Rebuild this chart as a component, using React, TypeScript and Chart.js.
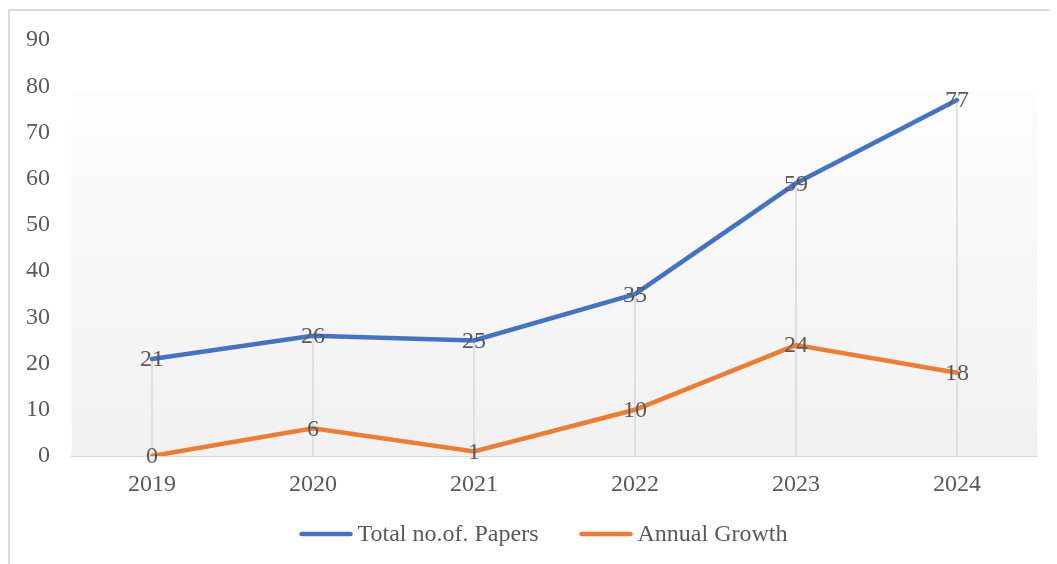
import React, { useEffect, useRef } from "react";
import { Chart, registerables } from "chart.js";

Chart.register(...registerables);

const years = ["2019", "2020", "2021", "2022", "2023", "2024"];
const totalPapers = [21, 26, 25, 35, 59, 77];
const annualGrowth = [0, 6, 1, 10, 24, 18];
const seriesNames = ["Total no.of. Papers", "Annual Growth"];
const seriesColors = ["#4472C4", "#ED7D31"];
const yMin = 0;
const yMax = 90;
const yStep = 10;

const FONT = '"Liberation Serif", "Times New Roman", serif';
const TEXT = "#595959";

const bgPlugin = {
  id: "bgGradient",
  beforeDatasetsDraw(chart: any) {
    const { ctx, chartArea } = chart;
    const top = chartArea.top + 52;
    const g = ctx.createLinearGradient(0, top, 0, chartArea.bottom);
    g.addColorStop(0, "#fdfdfd");
    g.addColorStop(1, "#f1f1f1");
    ctx.save();
    ctx.fillStyle = g;
    ctx.fillRect(chartArea.left, top, chartArea.right - chartArea.left, chartArea.bottom - top);
    const m0 = chart.getDatasetMeta(0).data;
    const m1 = chart.getDatasetMeta(1).data;
    ctx.strokeStyle = "#d9d9d9";
    ctx.lineWidth = 1.5;
    for (let i = 0; i < m0.length; i++) {
      const x = m0[i].x;
      const y = Math.min(m0[i].y, m1[i].y);
      ctx.beginPath();
      ctx.moveTo(x, y);
      ctx.lineTo(x, chartArea.bottom);
      ctx.stroke();
    }
    ctx.restore();
  },
};

const labelPlugin = {
  id: "pointLabels",
  afterDatasetsDraw(chart: any) {
    const { ctx } = chart;
    ctx.save();
    ctx.font = `24px ${FONT}`;
    ctx.fillStyle = TEXT;
    ctx.textAlign = "center";
    ctx.textBaseline = "middle";
    chart.data.datasets.forEach((ds: any, di: number) => {
      const meta = chart.getDatasetMeta(di);
      meta.data.forEach((pt: any, i: number) => {
        ctx.fillText(String(ds.data[i]), pt.x, pt.y + 1);
      });
    });
    ctx.restore();
  },
};

const legendPlugin = {
  id: "customLegend",
  afterDraw(chart: any) {
    const { ctx } = chart;
    ctx.save();
    ctx.font = `24px ${FONT}`;
    const lineLen = 53;
    const gapText = 5;
    const gapItem = 41;
    const items = chart.data.datasets.map((ds: any) => ({
      label: ds.label,
      color: ds.borderColor,
      w: ctx.measureText(ds.label).width,
    }));
    let total = 0;
    items.forEach((it: any, i: number) => {
      total += lineLen + gapText + it.w + (i > 0 ? gapItem : 0);
    });
    let x = chart.width / 2 + 10 - total / 2;
    const y = 523;
    items.forEach((it: any) => {
      ctx.strokeStyle = it.color;
      ctx.lineWidth = 4.5;
      ctx.lineCap = "round";
      ctx.beginPath();
      ctx.moveTo(x + 2, y);
      ctx.lineTo(x + lineLen - 2, y);
      ctx.stroke();
      ctx.fillStyle = TEXT;
      ctx.textAlign = "left";
      ctx.textBaseline = "middle";
      ctx.fillText(it.label, x + lineLen + gapText, y + 1);
      x += lineLen + gapText + it.w + gapItem;
    });
    ctx.restore();
  },
};

export default function App() {
  const ref = useRef<HTMLCanvasElement>(null);
  useEffect(() => {
    if (!ref.current) return;
    const chart = new Chart(ref.current, {
      type: "line",
      data: {
        labels: years,
        datasets: [
          {
            label: seriesNames[0],
            data: totalPapers,
            borderColor: seriesColors[0],
            backgroundColor: seriesColors[0],
            borderWidth: 4.5,
            pointRadius: 0,
            tension: 0,
            borderCapStyle: "round",
          },
          {
            label: seriesNames[1],
            data: annualGrowth,
            borderColor: seriesColors[1],
            backgroundColor: seriesColors[1],
            borderWidth: 4.5,
            pointRadius: 0,
            tension: 0,
            borderCapStyle: "round",
          },
        ],
      },
      options: {
        animation: false,
        responsive: false,
        maintainAspectRatio: false,
        layout: { padding: { top: 29, right: 19.5, left: 0, bottom: 0 } },
        plugins: {
          legend: { display: false },
          tooltip: { enabled: false },
        },
        scales: {
          x: {
            offset: true,
            grid: { display: false, drawTicks: false },
            border: { display: true, color: "#d9d9d9", width: 2 },
            ticks: { font: { family: FONT, size: 24 }, color: TEXT, padding: 14 },
            afterFit(scale: any) {
              scale.height = 108;
            },
          },
          y: {
            min: yMin,
            max: yMax,
            grid: { display: false, drawTicks: false },
            border: { display: false },
            ticks: {
              stepSize: yStep,
              font: { family: FONT, size: 24, lineHeight: 0.5 },
              color: TEXT,
              padding: 21.5,
            },
            afterFit(scale: any) {
              scale.width = 61.5;
            },
          },
        },
      },
      plugins: [bgPlugin, labelPlugin, legendPlugin],
    });
    return () => chart.destroy();
  }, []);

  return (
    <div style={{ paddingTop: 1 }}>
      <div
        style={{
          borderTop: "2px solid #d9d9d9",
          borderLeft: "2px solid #d9d9d9",
          width: 1047,
          height: 553,
          overflow: "hidden",
        }}
      >
        <canvas ref={ref} width={1047} height={553} style={{ display: "block" }} />
      </div>
    </div>
  );
}
